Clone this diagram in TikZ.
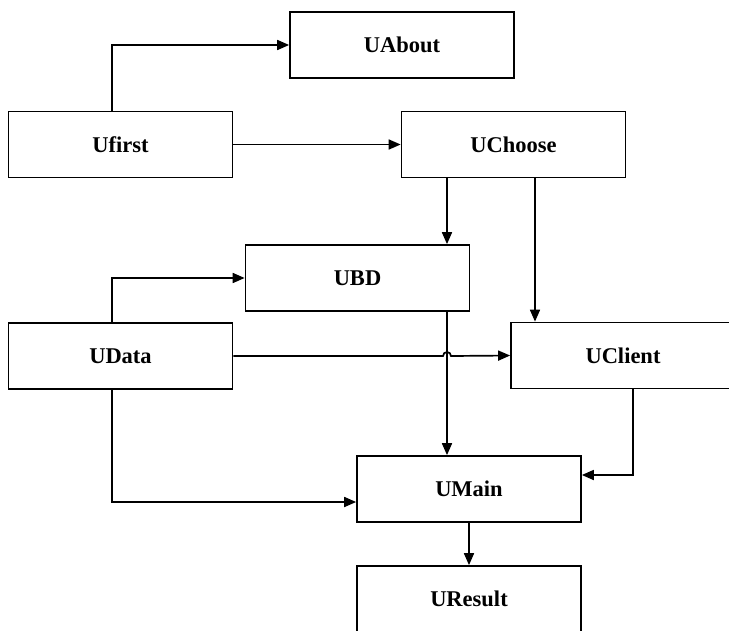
\documentclass[tikz,border=0pt]{standalone}
\usepackage{fontspec}
\setmainfont{Liberation Serif}
\usetikzlibrary{arrows.meta}
\begin{document}
\begin{tikzpicture}[x=1pt,y=-1pt,
  box/.style={draw,line width=1.7pt,rectangle,minimum width=224pt,minimum height=66pt,inner sep=0pt,font=\fontsize{22.5}{26}\selectfont\bfseries},
  conn/.style={line width=1.7pt,-{Triangle[length=12pt,width=10pt]}}]
\useasboundingbox (0,0) rectangle (729,630);
\clip (0,0) rectangle (729,630);
\node[box] (ufirst) at (120.5,144.5) {Ufirst};
\node[box] (uabout) at (402,45) {UAbout};
\node[box] (uchoose) at (513.5,144.5) {UChoose};
\node[box] (ubd) at (357.5,278) {UBD};
\node[box] (udata) at (120.5,356) {UData};
\node[box] (uclient) at (623,355.5) {UClient};
\node[box] (umain) at (469,489) {UMain};
\node[box] (uresult) at (469,599) {UResult};
\coordinate (xl) at (112,0);
\coordinate (xa) at (447,0);
\coordinate (xb) at (535,0);
\coordinate (xc) at (633,0);
\draw[conn] (ufirst.north -| xl) |- (uabout.west);
\draw[conn] (ufirst.east) -- (uchoose.west);
\draw[conn] (uchoose.south -| xa) -- (ubd.north -| xa);
\draw[conn] (uchoose.south -| xb) -- (uclient.north -| xb);
\draw[conn] (udata.north -| xl) |- (ubd.west);
\draw[conn] (udata.east) -- ([xshift=-4pt]udata.east -| xa) arc[start angle=180,end angle=0,radius=4pt] -- (uclient.west);
\draw[conn] (udata.south -| xl) |- ([yshift=-13pt]umain.west);
\draw[conn] (ubd.south -| xa) -- (umain.north -| xa);
\draw[conn] (uclient.south -| xc) |- ([yshift=14pt]umain.east);
\draw[conn] (umain.south) -- (uresult.north);
\end{tikzpicture}
\end{document}
